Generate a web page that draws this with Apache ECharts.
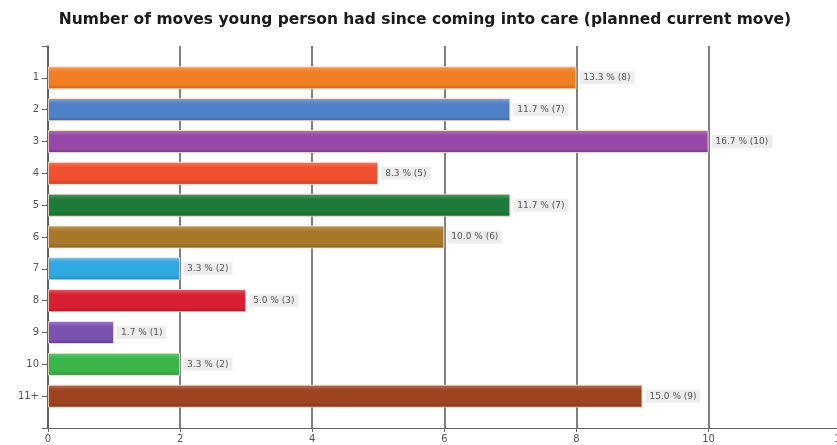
<!DOCTYPE html>
<html>
<head>
<meta charset="utf-8">
<script src="https://cdn.jsdelivr.net/npm/echarts@6/dist/echarts.min.js"></script>
<style>
  html, body { margin: 0; padding: 0; background: #fff; overflow: hidden; }
  #chart { width: 850px; height: 445px; }
</style>
</head>
<body>
<div id="chart"></div>
<script>
// Number of previous moves (category) and how many young people had that many
const categories = ['1', '2', '3', '4', '5', '6', '7', '8', '9', '10', '11+'];
const counts = [8, 7, 10, 5, 7, 6, 2, 3, 1, 2, 9];
const barColors = ['#f07d22', '#5080c8', '#9548a8', '#ee5030', '#1d7a3a', '#a8782a',
                   '#30a8e0', '#d81e30', '#7a52b0', '#3cb44a', '#9c4420'];
const xTicks = [0, 2, 4, 6, 8, 10, 12];

const total = counts.reduce((a, b) => a + b, 0);

function shade(hex, f) {
  const n = parseInt(hex.slice(1), 16);
  let r = (n >> 16) & 255, g = (n >> 8) & 255, b = n & 255;
  const m = c => Math.max(0, Math.min(255, Math.round(f >= 0 ? c + (255 - c) * f : c * (1 + f))));
  return 'rgb(' + m(r) + ',' + m(g) + ',' + m(b) + ')';
}

// padding slots above and below so the axis runs half a step past the first/last bar
const yData = [''].concat(categories, ['']);
const barData = [null].concat(counts.map((v, i) => ({
  value: v,
  itemStyle: {
    color: {
      type: 'linear', x: 0, y: 0, x2: 0, y2: 1,
      colorStops: [
        { offset: 0, color: shade(barColors[i], 0.25) },
        { offset: 0.25, color: barColors[i] },
        { offset: 0.8, color: barColors[i] },
        { offset: 1, color: shade(barColors[i], -0.2) }
      ]
    },
    borderColor: 'rgba(255,225,205,0.8)',
    borderWidth: 1
  }
})), [null]);

const font = 'DejaVu Sans, Liberation Sans, Arial';

// the plot runs slightly past the right edge of the window, so the canvas is a little wider
const chart = echarts.init(document.getElementById('chart'));
chart.setOption({
  animation: false,
  backgroundColor: '#ffffff',
  title: {
    text: 'Number of moves young person had since coming into care (planned current move)',
    left: 'center',
    top: 7,
    textStyle: { fontFamily: font, fontWeight: 'bold', fontSize: 15.5, color: '#1a1a1a' }
  },
  grid: { left: 48, top: 46, right: 8, height: 382, containLabel: false },
  xAxis: {
    type: 'value',
    min: xTicks[0],
    max: xTicks[xTicks.length - 1],
    interval: 2,
    axisLine: { show: true, lineStyle: { color: '#666', width: 1 } },
    axisTick: { show: true, length: 4, lineStyle: { color: '#666' } },
    axisLabel: { color: '#555', fontSize: 10, fontFamily: font, margin: 6 },
    splitLine: { show: true, lineStyle: { color: '#555', width: 1.5 } }
  },
  yAxis: {
    type: 'category',
    inverse: true,
    boundaryGap: false,
    data: yData,
    axisLine: { show: true, lineStyle: { color: '#555', width: 1.5 } },
    axisTick: { show: true, length: 6, inside: false, lineStyle: { color: '#666' } },
    axisLabel: { color: '#555', fontSize: 10, fontFamily: font, margin: 9 }
  },
  series: [{
    type: 'bar',
    data: barData,
    barWidth: 23,
    label: {
      show: true,
      position: 'right',
      distance: 3,
      fontSize: 9,
      fontFamily: font,
      color: '#555',
      backgroundColor: '#ededed',
      padding: [2, 4],
      formatter: p => (p.value / total * 100).toFixed(1) + ' % (' + p.value + ')'
    }
  }]
});
</script>
</body>
</html>
